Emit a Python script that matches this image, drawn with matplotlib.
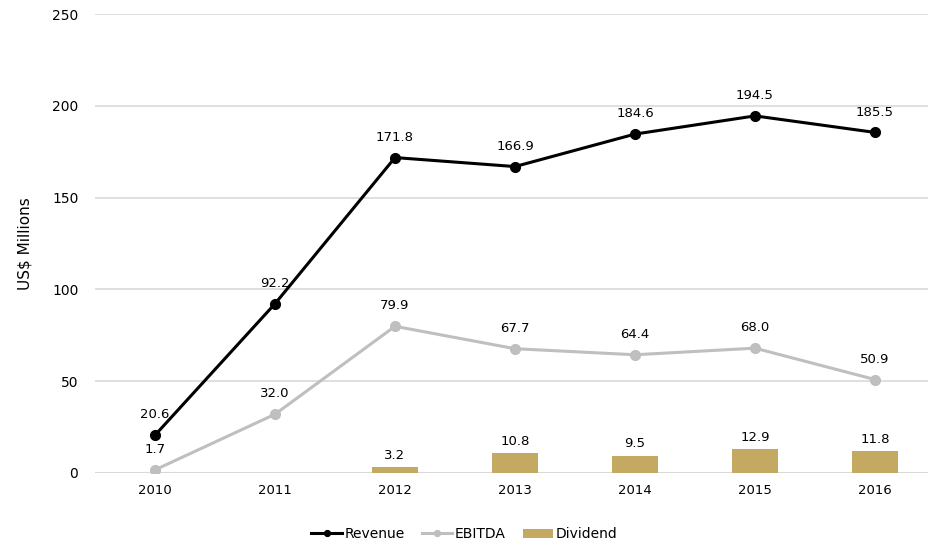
import numpy as np
import matplotlib
matplotlib.use("Agg")
import matplotlib.pyplot as plt

years = ["2010", "2011", "2012", "2013", "2014", "2015", "2016"]
revenue = [20.6, 92.2, 171.8, 166.9, 184.6, 194.5, 185.5]
ebitda = [1.7, 32.0, 79.9, 67.7, 64.4, 68.0, 50.9]
dividend = [None, None, 3.2, 10.8, 9.5, 12.9, 11.8]

plt.rcParams['font.family'] = ['DejaVu Sans']

fig = plt.figure(figsize=(9.29, 5.48), dpi=100)
ax = fig.add_axes([95 / 929, 75 / 548, 1 - 95 / 929, (473 - 14) / 548])

x = np.arange(len(years))
div_x = [i for i, v in enumerate(dividend) if v is not None]
div_v = [v for v in dividend if v is not None]

rev_line, = ax.plot(x, revenue, color="black", lw=2.2, marker="o", ms=7, label="Revenue", zorder=4)
ebi_line, = ax.plot(x, ebitda, color="#BFBFBF", lw=2.2, marker="o", ms=7, label="EBITDA", zorder=3)
bars = ax.bar(div_x, div_v, width=0.39, color="#C4A962", label="Dividend", zorder=2)

for i, v in enumerate(revenue):
    ax.annotate(f"{v:.1f}", (i, v), xytext=(0, 10), textcoords="offset points",
                ha="center", va="bottom", fontsize=9.5)
for i, v in enumerate(ebitda):
    ax.annotate(f"{v:.1f}", (i, v), xytext=(0, 10), textcoords="offset points",
                ha="center", va="bottom", fontsize=9.5)
for i, v in zip(div_x, div_v):
    ax.annotate(f"{v:.1f}", (i, v), xytext=(0, 4), textcoords="offset points",
                ha="center", va="bottom", fontsize=9.5)

ax.set_xlim(-0.5, 6.45)
ax.set_ylim(0, 250)
ax.set_yticks(range(0, 251, 50))
ax.set_xticks(x)
ax.set_xticklabels(years)
ax.tick_params(length=0, labelsize=9.5, pad=8)
ax.tick_params(axis="y", pad=12, labelsize=10)
ax.grid(axis="y", color="#D9D9D9", lw=1.2)
ax.axhline(0, color="#D9D9D9", lw=1.5, zorder=1)
ax.set_axisbelow(True)
for s in ax.spines.values():
    s.set_visible(False)
ax.set_ylabel("US$ Millions", fontsize=11, labelpad=14)

fig.legend([rev_line, ebi_line, bars], ["Revenue", "EBITDA", "Dividend"],
           loc="center", bbox_to_anchor=(0.5, 0.025), ncol=3, frameon=False,
           fontsize=10, handlelength=2.2, columnspacing=1.2, handletextpad=0.2,
           markerscale=0.6)

fig.savefig("out.png", dpi=100)
